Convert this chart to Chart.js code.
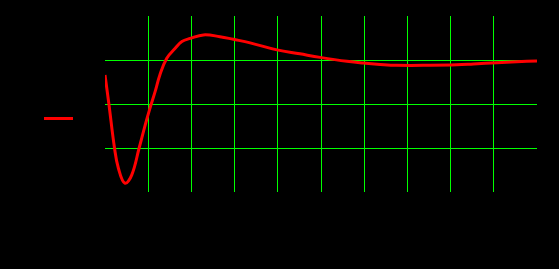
<!DOCTYPE html>
<html>
<head>
<meta charset="utf-8">
<script src="https://cdn.jsdelivr.net/npm/chart.js@4"></script>
<style>
  html, body { margin: 0; padding: 0; background: #000; }
  #wrap { width: 559px; height: 269px; }
</style>
</head>
<body>
<div id="wrap"><canvas id="c" width="559" height="269"></canvas></div>
<script>
const seriesLabel = "y";
const xValues = [0, 0.09, 0.22, 0.31, 0.46, 0.62, 0.79, 0.93, 1.04, 1.16, 1.27, 1.43, 1.62, 1.78, 1.97, 2.28, 2.66, 2.97, 3.36, 3.98, 4.51, 4.98, 5.60, 5.98, 6.37, 6.75, 7.52, 8.14, 8.53, 9.07, 9.53, 10];
const yValues = [0.66, 0.00, -1.00, -1.46, -1.80, -1.61, -1.00, -0.48, -0.10, 0.28, 0.66, 1.04, 1.26, 1.42, 1.49, 1.57, 1.53, 1.47, 1.39, 1.23, 1.14, 1.06, 0.97, 0.93, 0.90, 0.88, 0.88, 0.89, 0.91, 0.94, 0.96, 0.98];
const xTicks = [0, 1, 2, 3, 4, 5, 6, 7, 8, 9, 10];
const yTicks = [-2, -1, 0, 1, 2];

const points = xValues.map((x, i) => ({ x: x, y: yValues[i] }));

function innerGrid(ctx) {
  const n = ctx.scale.ticks.length;
  return (ctx.index === 0 || ctx.index === n - 1) ? 'rgba(0,0,0,0)' : '#00ff00';
}

const PAD_LEFT = 34;
const PLOT_LEFT = 105;

new Chart(document.getElementById('c'), {
  type: 'line',
  data: {
    datasets: [{
      label: seriesLabel,
      data: points,
      borderColor: '#ff0000',
      backgroundColor: '#ff0000',
      borderWidth: 3,
      pointRadius: 0,
      tension: 0.4,
      fill: false
    }]
  },
  options: {
    responsive: false,
    animation: false,
    layout: { padding: { top: 16, bottom: 48, left: PAD_LEFT, right: 22 } },
    plugins: {
      tooltip: { enabled: false },
      legend: {
        position: 'left',
        labels: {
          color: '#000000',
          boxWidth: 29,
          boxHeight: 3,
          generateLabels: function (chart) {
            const items = Chart.defaults.plugins.legend.labels.generateLabels(chart);
            items.forEach(it => { it.lineWidth = 0; });
            return items;
          }
        }
      }
    },
    scales: {
      x: {
        type: 'linear',
        min: xTicks[0],
        max: xTicks[xTicks.length - 1],
        afterBuildTicks: s => { s.ticks = xTicks.map(v => ({ value: v })); },
        ticks: { display: false },
        border: { display: false },
        grid: { color: innerGrid, drawTicks: false, lineWidth: 1 },
        afterFit: s => { s.height = 29; }
      },
      y: {
        type: 'linear',
        min: yTicks[0],
        max: yTicks[yTicks.length - 1],
        afterBuildTicks: s => { s.ticks = yTicks.map(v => ({ value: v })); },
        ticks: { display: false },
        border: { display: false },
        grid: { color: innerGrid, drawTicks: false, lineWidth: 1 },
        afterFit: s => {
          const lw = (s.chart.legend && s.chart.legend.width) ? s.chart.legend.width : 60;
          s.width = Math.max(0, PLOT_LEFT - PAD_LEFT - lw);
        }
      }
    }
  }
});
</script>
</body>
</html>
